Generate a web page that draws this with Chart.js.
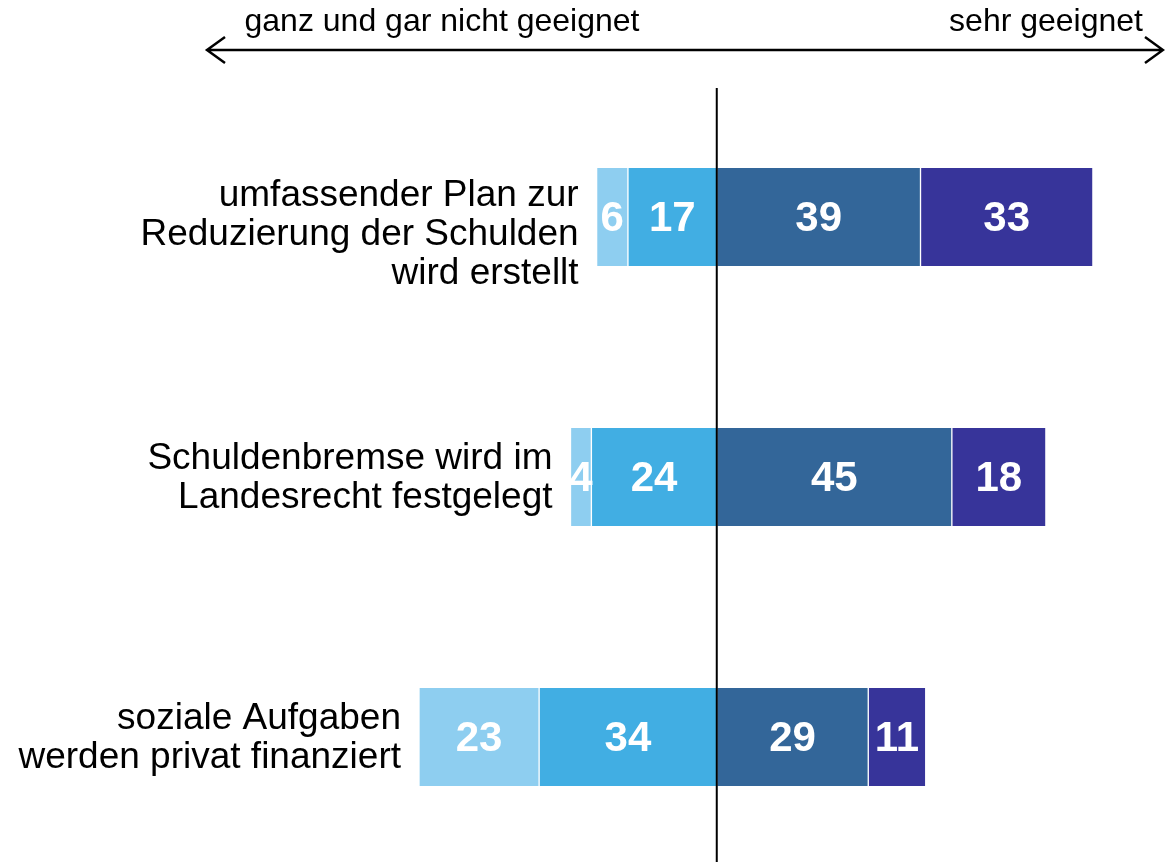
<!DOCTYPE html>
<html>
<head>
<meta charset="utf-8">
<script src="https://cdn.jsdelivr.net/npm/chart.js@4"></script>
<style>
  html, body { margin: 0; padding: 0; background: #fff; overflow: hidden; }
  #wrap { position: relative; width: 1165px; height: 867px; }
</style>
</head>
<body>
<div id="wrap"><canvas id="chart"></canvas></div>
<script>
// Kategorien (eine Zeile pro Balken, mehrzeilig)
const categories = [
    ['umfassender Plan zur', 'Reduzierung der Schulden', 'wird erstellt'],
    ['Schuldenbremse wird im', 'Landesrecht festgelegt'],
    ['soziale Aufgaben', 'werden privat finanziert']
];

// Werte in Prozent
const garNicht = [6, 4, 23];      // ganz und gar nicht geeignet
const eherNicht = [17, 24, 34];   // eher nicht geeignet
const eher = [39, 45, 29];        // eher geeignet
const sehr = [33, 18, 11];        // sehr geeignet

const leftLabel = 'ganz und gar nicht geeignet';
const rightLabel = 'sehr geeignet';

const FONT = '"Liberation Sans", Arial, sans-serif';
const labelShift = [17, 0, 0]; // vertikale Verschiebung der Beschriftung (px)
const neg = arr => arr.map(v => -v);

// Texte, Pfeil und Mittellinie
const overlay = {
    id: 'overlay',
    afterDatasetsDraw(chart) {
        const ctx = chart.ctx;
        const x0 = chart.scales.x.getPixelForValue(0);

        // Werte in den Segmenten
        ctx.save();
        ctx.fillStyle = '#fff';
        ctx.font = 'bold 42px ' + FONT;
        ctx.textAlign = 'center';
        ctx.textBaseline = 'middle';
        chart.data.datasets.forEach((ds, i) => {
            chart.getDatasetMeta(i).data.forEach((el, j) => {
                const cx = (el.x + el.base) / 2;
                ctx.fillText(Math.abs(ds.data[j]), cx, el.y + 2);
            });
        });
        ctx.restore();

        // Mittellinie
        ctx.save();
        ctx.strokeStyle = '#000';
        ctx.lineWidth = 2;
        ctx.beginPath();
        ctx.moveTo(x0, 88);
        ctx.lineTo(x0, chart.height);
        ctx.stroke();
        ctx.restore();

        // Kategorien links neben dem jeweiligen Balken
        ctx.save();
        ctx.fillStyle = '#000';
        ctx.font = '37px ' + FONT;
        ctx.textAlign = 'right';
        ctx.textBaseline = 'middle';
        const lh = 39;
        categories.forEach((lines, j) => {
            let left = Infinity, y = 0;
            chart.data.datasets.forEach((ds, i) => {
                const el = chart.getDatasetMeta(i).data[j];
                left = Math.min(left, el.x, el.base);
                y = el.y;
            });
            const top = y + labelShift[j] - (lines.length - 1) * lh / 2;
            lines.forEach((t, k) => ctx.fillText(t, left - 18, top + k * lh + 1));
        });
        ctx.restore();

        // Pfeil oben
        ctx.save();
        ctx.strokeStyle = '#000';
        ctx.lineWidth = 2.5;
        const ay = 50, ax1 = 207, ax2 = 1163;
        ctx.beginPath();
        ctx.moveTo(ax1, ay); ctx.lineTo(ax2, ay);
        ctx.moveTo(ax1 + 18, ay - 13); ctx.lineTo(ax1, ay); ctx.lineTo(ax1 + 18, ay + 13);
        ctx.moveTo(ax2 - 18, ay - 13); ctx.lineTo(ax2, ay); ctx.lineTo(ax2 - 18, ay + 13);
        ctx.stroke();
        ctx.fillStyle = '#000';
        ctx.font = '32px ' + FONT;
        ctx.textBaseline = 'middle';
        ctx.textAlign = 'center';
        ctx.fillText(leftLabel, 442, 22);
        ctx.textAlign = 'right';
        ctx.fillText(rightLabel, 1143, 22);
        ctx.restore();
    }
};

const seg = (label, data, color) => ({
    label: label,
    data: data,
    backgroundColor: color,
    borderColor: 'rgba(255,255,255,0.45)',
    borderWidth: { left: 1, right: 1, top: 0, bottom: 0 },
    borderSkipped: false,
    barThickness: 98
});

new Chart(document.getElementById('chart'), {
    type: 'bar',
    data: {
        labels: categories.map(l => l.join(' ')),
        datasets: [
            seg('eher nicht geeignet', neg(eherNicht), '#41aee3'),
            seg('ganz und gar nicht geeignet', neg(garNicht), '#8ecef0'),
            seg('eher geeignet', eher, '#336699'),
            seg('sehr geeignet', sehr, '#37349a')
        ]
    },
    options: {
        indexAxis: 'y',
        responsive: true,
        maintainAspectRatio: false,
        animation: false,
        layout: { padding: { top: 87, left: 0, right: 0, bottom: 0 } },
        plugins: {
            legend: { display: false },
            tooltip: { enabled: false }
        },
        scales: {
            x: { stacked: true, min: -137.2, max: 85.8, display: false },
            y: { stacked: true, display: false }
        }
    },
    plugins: [overlay]
});
</script>
</body>
</html>
